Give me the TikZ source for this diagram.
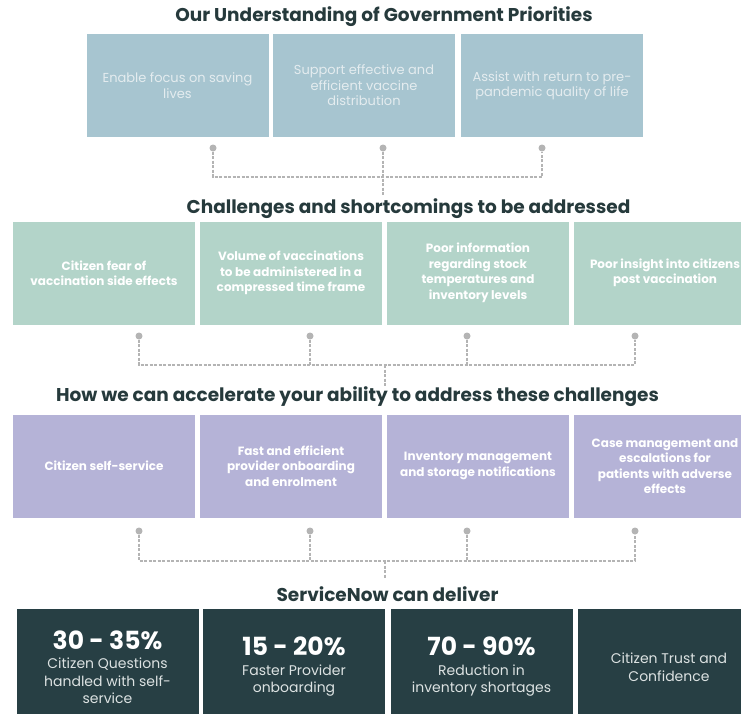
\documentclass[tikz,border=0pt]{standalone}
\usepackage{fontspec}
\setmainfont{Poppins}
\usetikzlibrary{positioning,calc}
\definecolor{blueGrey}{HTML}{A7C5D0}
\definecolor{mintGreen}{HTML}{B3D4C9}
\definecolor{lavender}{HTML}{B5B3D7}
\definecolor{darkTeal}{HTML}{273F44}
\definecolor{titleGrey}{HTML}{263A3C}
\definecolor{paleText}{HTML}{E4ECEF}
\definecolor{greyText}{HTML}{DCE2E2}
\definecolor{dotGrey}{HTML}{B4B4B4}
\newcommand{\chiffre}{\bfseries\fontsize{25}{28}\selectfont\color{white}}

\begin{document}
\begin{tikzpicture}[x=1pt,y=-1pt,font=\fontsize{13}{15.5}\selectfont,
  prio/.style={rectangle,minimum width=182pt,minimum height=103pt,inner sep=0pt,
               fill=blueGrey,text=paleText,align=center},
  chal/.style={rectangle,minimum width=182pt,minimum height=103pt,inner sep=0pt,
               fill=mintGreen,text=white,align=center,font=\bfseries\fontsize{12}{15.5}\selectfont},
  acc/.style={chal,fill=lavender},
  deliv/.style={rectangle,minimum width=182pt,minimum height=116pt,inner sep=0pt,
                fill=darkTeal,text=greyText,align=center,font=\fontsize{14}{17.5}\selectfont},
  titre/.style={font=\bfseries\fontsize{18.5}{21}\selectfont,text=titleGrey},
  puce/.style={circle,fill=dotGrey,inner sep=0pt,minimum size=7pt},
  lien/.style={dotGrey,dash pattern=on 3pt off 1.5pt,line width=1.1pt}]
  \useasboundingbox (0,0) rectangle (741,713);
  \clip (0,0) rectangle (741,713);
  \fill[white] (0,0) rectangle (741,713);

  % government priorities
  \node[titre] (T1) at (384,17) {Our Understanding of Government Priorities};
  \node[prio] (P1) at (177.5,85.5) {Enable focus on saving\\lives};
  \node[prio] (P2) at (364,85.5) {Support effective and\\efficient vaccine\\distribution};
  \node[prio] (P3) at (552,85.5) {Assist with return to pre-\\pandemic quality of life};

  \node[puce] (p1) at (213,148) {};
  \node[puce] (p2) at (383,148) {};
  \node[puce] (p3) at (542,148) {};
  \coordinate (h1) at (383,177);
  \coordinate (t1) at (383,196);
  \draw[lien] (p1) |- (h1) -| (p3);
  \draw[lien] (p2) -- (t1);

  % challenges
  \node[titre] (T2) at (408.5,209) {Challenges and shortcomings to be addressed};
  \node[chal] (C1) at (104,273) {Citizen fear of\\vaccination side effects};
  \node[chal] (C2) at (291,273) {Volume of vaccinations\\to be administered in a\\compressed time frame};
  \node[chal] (C3) at (478,273) {Poor information\\regarding stock\\temperatures and\\inventory levels};
  \node[chal] (C4) at (665,273) {Poor insight into citizens\\post vaccination};

  \node[puce] (c1) at (139,336) {};
  \node[puce] (c2) at (310,336) {};
  \node[puce] (c3) at (467,336) {};
  \node[puce] (c4) at (635,336) {};
  \coordinate (h2) at (385,365);
  \coordinate (t2) at (385,386);
  \draw[lien] (c1) |- (h2) -| (c4);
  \draw[lien] (c2) -- (c2 |- h2);
  \draw[lien] (c3) -- (c3 |- h2);
  \draw[lien] (h2) -- (t2);

  % how we can accelerate
  \node[titre] (T3) at (357.5,397) {How we can accelerate your ability to address these challenges};
  \node[acc] (A1) at (104,466) {Citizen self-service};
  \node[acc] (A2) at (291,466) {Fast and efficient\\provider onboarding\\and enrolment};
  \node[acc] (A3) at (478,466) {Inventory management\\and storage notifications};
  \node[acc] (A4) at (665,466) {Case management and\\escalations for\\patients with adverse\\effects};

  \node[puce] (a1) at (139,531) {};
  \node[puce] (a2) at (310,531) {};
  \node[puce] (a3) at (467,531) {};
  \node[puce] (a4) at (635,531) {};
  \coordinate (h3) at (385,561);
  \coordinate (t3) at (385,578);
  \draw[lien] (a1) |- (h3) -| (a4);
  \draw[lien] (a2) -- (a2 |- h3);
  \draw[lien] (a3) -- (a3 |- h3);
  \draw[lien] (h3) -- (t3);

  % what ServiceNow delivers
  \node[titre] (T4) at (387.5,594) {ServiceNow can deliver};
  \node[deliv] (D1) at (107.5,667)
    {{\chiffre 30 - 35\%}\\[2pt]Citizen Questions\\handled with self-\\service};
  \node[deliv] (D2) at (294,667)
    {{\chiffre 15 - 20\%}\\[2pt]Faster Provider\\onboarding};
  \node[deliv] (D3) at (481.5,667)
    {{\chiffre 70 - 90\%}\\[2pt]Reduction in\\inventory shortages};
  \node[deliv] (D4) at (669,667) {Citizen Trust and\\Confidence};
\end{tikzpicture}
\end{document}
